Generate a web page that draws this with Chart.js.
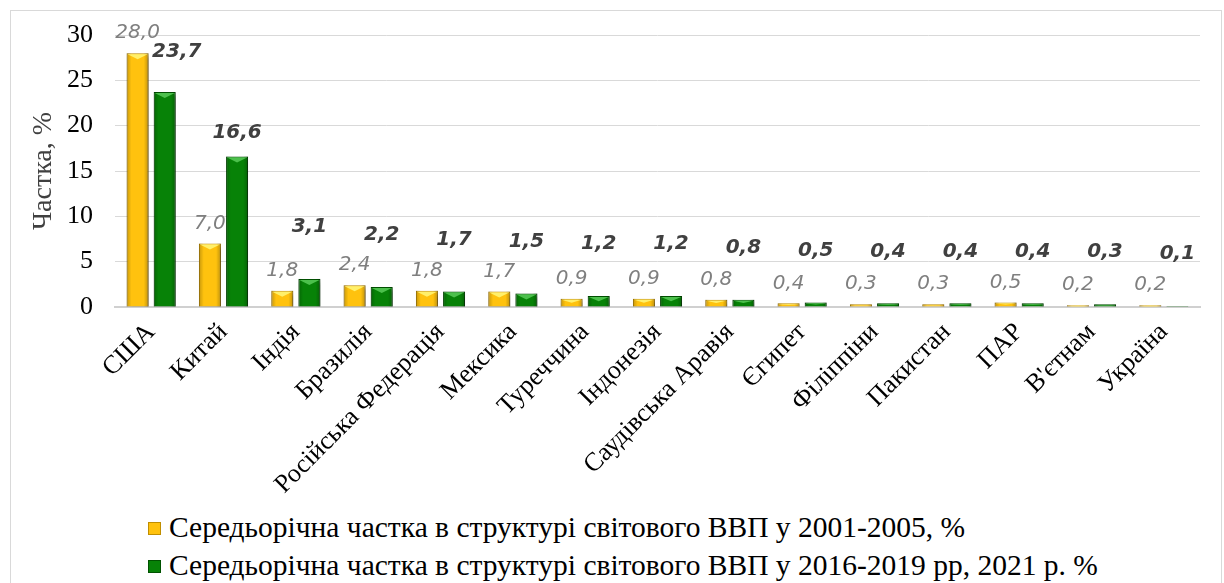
<!DOCTYPE html>
<html>
<head>
<meta charset="utf-8">
<script src="https://cdn.jsdelivr.net/npm/chart.js@4"></script>
<style>
  body { margin: 0; background: #fff; width: 1224px; height: 583px; overflow: hidden; position: relative; }
  #ramka { position: absolute; left: 10px; top: 10px; width: 1212px; height: 580px; border: 1px solid #d9d9d9; box-sizing: border-box; }
  #wrap { position: absolute; left: 10px; top: 11px; width: 1212px; height: 495px; }
  #legenda { position: absolute; left: 148px; top: 509px; font-family: "Liberation Serif", "Times New Roman", serif; font-size: 29.5px; color: #000; }
  #legenda div { height: 38px; line-height: 36px; white-space: nowrap; }
  #legenda span.kv { display: inline-block; width: 13px; height: 13px; margin-right: 8px; vertical-align: 2px; box-sizing: border-box; }
</style>
</head>
<body>
<div id="ramka"></div>
<div id="wrap"><canvas id="grafik"></canvas></div>
<div id="legenda"></div>
<script>
// Дані діаграми
const krainy = ["США","Китай","Індія","Бразилія","Російська Федерація","Мексика","Туреччина","Індонезія","Саудівська Аравія","Єгипет","Філіппіни","Пакистан","ПАР","В'єтнам","Україна"];
const chastka2001 = [28.0, 7.0, 1.8, 2.4, 1.8, 1.7, 0.9, 0.9, 0.8, 0.4, 0.3, 0.3, 0.5, 0.2, 0.2];
const chastka2016 = [23.7, 16.6, 3.1, 2.2, 1.7, 1.5, 1.2, 1.2, 0.8, 0.5, 0.4, 0.4, 0.4, 0.3, 0.1];
const nazvy = [
  "Середьорічна частка в структурі світового ВВП у 2001-2005, %",
  "Середьорічна частка в структурі світового ВВП у 2016-2019 рр, 2021 р. %"
];
const yTicks = [0, 5, 10, 15, 20, 25, 30];

const shryft = "'Liberation Serif', 'Times New Roman', serif";

// Кольори стовпців
const kolory = [
  { fon: "#FFC20E", ramka: "#C08E00", svitlo: "#FFF06A" },
  { fon: "#078207", ramka: "#005200", svitlo: "#4CC04C" }
];

// Об'ємний ефект поверх стовпців
const obyem = {
  id: "obyem",
  afterDatasetsDraw(chart) {
    const c = chart.ctx;
    c.save();
    chart.data.datasets.forEach((ds, di) => {
      chart.getDatasetMeta(di).data.forEach(bar => {
        const w = bar.width, l = bar.x - w / 2, h = bar.base - bar.y;
        if (h < 1) return;
        const g = c.createLinearGradient(l, 0, l + w, 0);
        g.addColorStop(0, "rgba(0,0,0,0.22)");
        g.addColorStop(0.22, "rgba(0,0,0,0)");
        g.addColorStop(0.78, "rgba(0,0,0,0)");
        g.addColorStop(1, "rgba(0,0,0,0.25)");
        c.fillStyle = g;
        c.fillRect(l, bar.y, w, h);
        // світлий трикутник зверху
        const t = Math.min(6, h / 2);
        c.fillStyle = kolory[di].svitlo;
        c.beginPath();
        c.moveTo(l + 1, bar.y + 1);
        c.lineTo(l + w - 1, bar.y + 1);
        c.lineTo(bar.x, bar.y + t);
        c.closePath();
        c.fill();
      });
    });
    c.restore();
  }
};

// Підписи значень
const pidpysy = {
  id: "pidpysy",
  afterDatasetsDraw(chart) {
    const c = chart.ctx;
    c.save();
    c.textAlign = "center";
    c.textBaseline = "middle";
    chart.data.datasets.forEach((ds, di) => {
      chart.getDatasetMeta(di).data.forEach((bar, i) => {
        const v = ds.data[i];
        let y, x = bar.x;
        if (di === 0) {
          c.font = "italic 20px 'DejaVu Sans', Verdana, sans-serif";
          c.fillStyle = "#7f7f7f";
          y = bar.y - 20;
        } else {
          c.font = "italic bold 20px 'DejaVu Sans', Verdana, sans-serif";
          c.fillStyle = "#404040";
          y = bar.y - (v > 10 ? 24 : 52);
          if (v > 20) { x += 12; y -= 16; } // щоб не налазило на сусідній підпис
        }
        c.fillText(v.toFixed(1).replace(".", ","), x, y);
      });
    });
    c.restore();
  }
};

// Тінь під стовпцями
const tin = {
  id: "tin",
  beforeDatasetsDraw(chart) {
    const c = chart.ctx;
    c.save();
    c.shadowColor = "rgba(0,0,0,0.35)";
    c.shadowBlur = 4;
    c.shadowOffsetX = 2;
    c.shadowOffsetY = 3;
  },
  afterDatasetsDraw(chart) {
    chart.ctx.restore();
  }
};

new Chart(document.getElementById("grafik"), {
  type: "bar",
  data: {
    labels: krainy,
    datasets: [
      { label: nazvy[0], data: chastka2001, backgroundColor: kolory[0].fon, borderColor: kolory[0].ramka, borderWidth: 1 },
      { label: nazvy[1], data: chastka2016, backgroundColor: kolory[1].fon, borderColor: kolory[1].ramka, borderWidth: 1 }
    ]
  },
  options: {
    responsive: true,
    maintainAspectRatio: false,
    animation: false,
    categoryPercentage: 0.75,
    barPercentage: 0.81,
    layout: { padding: { left: 0, top: 24, right: 22, bottom: 0 } },
    plugins: {
      legend: { display: false },
      tooltip: { enabled: false }
    },
    scales: {
      x: {
        grid: { display: false, drawTicks: false },
        border: { color: "#d0d0d0", width: 2 },
        ticks: {
          color: "#000",
          font: { family: shryft, size: 26 },
          minRotation: 45,
          maxRotation: 45,
          padding: 10
        },
        afterFit: s => { s.height = 199; s.paddingTop = 0; }
      },
      y: {
        min: 0,
        max: 30,
        afterBuildTicks: s => { s.ticks = yTicks.map(v => ({ value: v })); },
        grid: { color: "#d9d9d9", drawTicks: false, lineWidth: 1 },
        border: { display: false },
        ticks: {
          color: "#000",
          font: { family: shryft, size: 26 },
          padding: 22
        },
        title: {
          display: true,
          text: "Частка, %",
          color: "#404040",
          font: { family: shryft, size: 28 },
          padding: { top: 17, bottom: 0 }
        },
        afterFit: s => { s.width = 105; s.paddingTop = 0; s.paddingBottom = 0; }
      }
    }
  },
  plugins: [tin, obyem, pidpysy]
});

// Легенда
const leg = document.getElementById("legenda");
nazvy.forEach((n, i) => {
  const d = document.createElement("div");
  d.innerHTML = `<span class="kv" style="background:${kolory[i].fon}; border:1px solid ${kolory[i].ramka}"></span>${n}`;
  leg.appendChild(d);
});
</script>
</body>
</html>
